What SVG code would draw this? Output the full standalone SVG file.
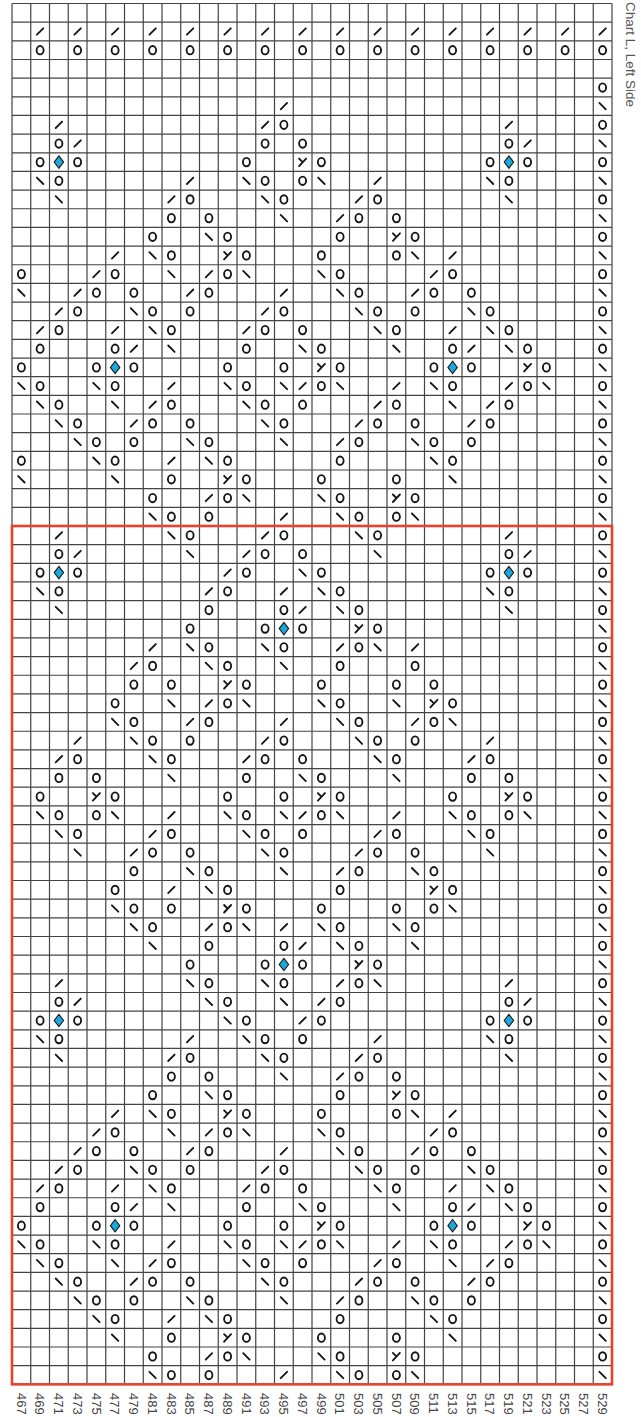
<svg xmlns="http://www.w3.org/2000/svg" width="641" height="1417" viewBox="0 0 641 1417">
<style>
.s{fill:none;stroke:#151515;stroke-width:1.85;stroke-linecap:round}
.grid{fill:none;stroke:#444;stroke-width:1.2}
.lbl{font-family:"Liberation Sans",Arial,sans-serif;font-size:13px;fill:#444}
</style>
<defs>
<ellipse id="o" cx="0" cy="0" rx="3.5" ry="4.2" class="s"/>
<path id="f" d="M-3.2,3.2L3.2,-3.2" class="s"/>
<path id="b" d="M-3.2,-3.2L3.2,3.2" class="s"/>
<path id="y" d="M-3.5,-3.5L0,0M3.5,-3.5L-3.5,4" class="s"/>
<path id="d" d="M0,-6.2L4.7,0L0,6.2L-4.7,0Z" fill="#1ba8de" stroke="#1a1a1a" stroke-width="1.1"/>
</defs>
<rect x="0" y="0" width="641" height="1417" fill="#fff"/>
<g id="grid">
<path class="grid" d="M12 3.5V1384.3M30.75 3.5V1384.3M49.5 3.5V1384.3M68.25 3.5V1384.3M87 3.5V1384.3M105.75 3.5V1384.3M124.5 3.5V1384.3M143.25 3.5V1384.3M162 3.5V1384.3M180.75 3.5V1384.3M199.5 3.5V1384.3M218.25 3.5V1384.3M237 3.5V1384.3M255.75 3.5V1384.3M274.5 3.5V1384.3M293.25 3.5V1384.3M312 3.5V1384.3M330.75 3.5V1384.3M349.5 3.5V1384.3M368.25 3.5V1384.3M387 3.5V1384.3M405.75 3.5V1384.3M424.5 3.5V1384.3M443.25 3.5V1384.3M462 3.5V1384.3M480.75 3.5V1384.3M499.5 3.5V1384.3M518.25 3.5V1384.3M537 3.5V1384.3M555.75 3.5V1384.3M574.5 3.5V1384.3M593.25 3.5V1384.3M612 3.5V1384.3"/>
<path class="grid" d="M12 3.5H612M12 22.16H612M12 40.82H612M12 59.48H612M12 78.14H612M12 96.8H612M12 115.46H612M12 134.12H612M12 152.78H612M12 171.44H612M12 190.1H612M12 208.76H612M12 227.42H612M12 246.08H612M12 264.74H612M12 283.4H612M12 302.06H612M12 320.72H612M12 339.38H612M12 358.04H612M12 376.7H612M12 395.36H612M12 414.02H612M12 432.68H612M12 451.34H612M12 470H612M12 488.66H612M12 507.32H612M12 525.98H612M12 544.64H612M12 563.3H612M12 581.96H612M12 600.62H612M12 619.28H612M12 637.94H612M12 656.6H612M12 675.26H612M12 693.92H612M12 712.58H612M12 731.24H612M12 749.9H612M12 768.56H612M12 787.22H612M12 805.88H612M12 824.54H612M12 843.2H612M12 861.86H612M12 880.52H612M12 899.18H612M12 917.84H612M12 936.5H612M12 955.16H612M12 973.82H612M12 992.48H612M12 1011.14H612M12 1029.8H612M12 1048.46H612M12 1067.12H612M12 1085.78H612M12 1104.44H612M12 1123.1H612M12 1141.76H612M12 1160.42H612M12 1179.08H612M12 1197.74H612M12 1216.4H612M12 1235.06H612M12 1253.72H612M12 1272.38H612M12 1291.04H612M12 1309.7H612M12 1328.36H612M12 1347.02H612M12 1365.68H612M12 1384.34H612"/>
</g>
<g id="symbols">
<g id="r1" transform="translate(0,31.5)"><use href="#f" x="40.1"/><use href="#f" x="77.6"/><use href="#f" x="115.1"/><use href="#f" x="152.6"/><use href="#f" x="190.1"/><use href="#f" x="227.6"/><use href="#f" x="265.1"/><use href="#f" x="302.6"/><use href="#f" x="340.1"/><use href="#f" x="377.6"/><use href="#f" x="415.1"/><use href="#f" x="452.6"/><use href="#f" x="490.1"/><use href="#f" x="527.6"/><use href="#f" x="565.1"/><use href="#f" x="602.6"/></g>
<g id="r2" transform="translate(0,50.2)"><use href="#o" x="40.1"/><use href="#o" x="77.6"/><use href="#o" x="115.1"/><use href="#o" x="152.6"/><use href="#o" x="190.1"/><use href="#o" x="227.6"/><use href="#o" x="265.1"/><use href="#o" x="302.6"/><use href="#o" x="340.1"/><use href="#o" x="377.6"/><use href="#o" x="415.1"/><use href="#o" x="452.6"/><use href="#o" x="490.1"/><use href="#o" x="527.6"/><use href="#o" x="565.1"/><use href="#o" x="602.6"/></g>
<g id="r4" transform="translate(0,87.5)"><use href="#o" x="602.6"/></g>
<g id="r5" transform="translate(0,106.1)"><use href="#f" x="283.9"/><use href="#b" x="602.6"/></g>
<g id="r6" transform="translate(0,124.8)"><use href="#f" x="58.9"/><use href="#f" x="265.1"/><use href="#o" x="283.9"/><use href="#f" x="508.9"/><use href="#o" x="602.6"/></g>
<g id="r7" transform="translate(0,143.5)"><use href="#o" x="58.9"/><use href="#f" x="77.6"/><use href="#o" x="265.1"/><use href="#o" x="302.6"/><use href="#o" x="508.9"/><use href="#f" x="527.6"/><use href="#b" x="602.6"/></g>
<g id="r8" transform="translate(0,162.1)"><use href="#o" x="40.1"/><use href="#d" x="58.9"/><use href="#o" x="77.6"/><use href="#o" x="246.4"/><use href="#y" x="302.6"/><use href="#o" x="321.4"/><use href="#o" x="490.1"/><use href="#d" x="508.9"/><use href="#o" x="527.6"/><use href="#o" x="602.6"/></g>
<g id="r9" transform="translate(0,180.8)"><use href="#b" x="40.1"/><use href="#o" x="58.9"/><use href="#f" x="190.1"/><use href="#b" x="246.4"/><use href="#o" x="265.1"/><use href="#o" x="302.6"/><use href="#b" x="321.4"/><use href="#f" x="377.6"/><use href="#b" x="490.1"/><use href="#o" x="508.9"/><use href="#b" x="602.6"/></g>
<g id="r10" transform="translate(0,199.4)"><use href="#b" x="58.9"/><use href="#f" x="171.4"/><use href="#o" x="190.1"/><use href="#b" x="265.1"/><use href="#o" x="283.9"/><use href="#f" x="358.9"/><use href="#o" x="377.6"/><use href="#b" x="508.9"/><use href="#o" x="602.6"/></g>
<g id="r11" transform="translate(0,218.1)"><use href="#o" x="171.4"/><use href="#o" x="208.9"/><use href="#b" x="283.9"/><use href="#f" x="340.1"/><use href="#o" x="358.9"/><use href="#o" x="396.4"/><use href="#b" x="602.6"/></g>
<g id="r12" transform="translate(0,236.8)"><use href="#o" x="152.6"/><use href="#b" x="208.9"/><use href="#o" x="227.6"/><use href="#o" x="340.1"/><use href="#y" x="396.4"/><use href="#o" x="415.1"/><use href="#o" x="602.6"/></g>
<g id="r13" transform="translate(0,255.4)"><use href="#f" x="115.1"/><use href="#b" x="152.6"/><use href="#o" x="171.4"/><use href="#y" x="227.6"/><use href="#o" x="246.4"/><use href="#o" x="321.4"/><use href="#o" x="396.4"/><use href="#b" x="415.1"/><use href="#f" x="452.6"/><use href="#b" x="602.6"/></g>
<g id="r14" transform="translate(0,274.1)"><use href="#o" x="21.4"/><use href="#f" x="96.4"/><use href="#o" x="115.1"/><use href="#b" x="171.4"/><use href="#f" x="208.9"/><use href="#o" x="227.6"/><use href="#b" x="246.4"/><use href="#b" x="321.4"/><use href="#o" x="340.1"/><use href="#f" x="433.9"/><use href="#o" x="452.6"/><use href="#o" x="602.6"/></g>
<g id="r15" transform="translate(0,292.7)"><use href="#b" x="21.4"/><use href="#f" x="77.6"/><use href="#o" x="96.4"/><use href="#o" x="133.9"/><use href="#f" x="190.1"/><use href="#o" x="208.9"/><use href="#f" x="283.9"/><use href="#b" x="340.1"/><use href="#o" x="358.9"/><use href="#f" x="415.1"/><use href="#o" x="433.9"/><use href="#o" x="471.4"/><use href="#b" x="602.6"/></g>
<g id="r16" transform="translate(0,311.4)"><use href="#f" x="58.9"/><use href="#o" x="77.6"/><use href="#b" x="133.9"/><use href="#o" x="152.6"/><use href="#o" x="190.1"/><use href="#f" x="265.1"/><use href="#o" x="283.9"/><use href="#b" x="358.9"/><use href="#o" x="377.6"/><use href="#o" x="415.1"/><use href="#b" x="471.4"/><use href="#o" x="490.1"/><use href="#o" x="602.6"/></g>
<g id="r17" transform="translate(0,330.1)"><use href="#f" x="40.1"/><use href="#o" x="58.9"/><use href="#f" x="115.1"/><use href="#b" x="152.6"/><use href="#o" x="171.4"/><use href="#f" x="246.4"/><use href="#o" x="265.1"/><use href="#o" x="302.6"/><use href="#b" x="377.6"/><use href="#o" x="396.4"/><use href="#f" x="452.6"/><use href="#b" x="490.1"/><use href="#o" x="508.9"/><use href="#b" x="602.6"/></g>
<g id="r18" transform="translate(0,348.7)"><use href="#o" x="40.1"/><use href="#o" x="115.1"/><use href="#f" x="133.9"/><use href="#b" x="171.4"/><use href="#o" x="246.4"/><use href="#b" x="302.6"/><use href="#o" x="321.4"/><use href="#b" x="396.4"/><use href="#o" x="452.6"/><use href="#f" x="471.4"/><use href="#b" x="508.9"/><use href="#o" x="527.6"/><use href="#o" x="602.6"/></g>
<g id="r19" transform="translate(0,367.4)"><use href="#o" x="21.4"/><use href="#o" x="96.4"/><use href="#d" x="115.1"/><use href="#o" x="133.9"/><use href="#o" x="227.6"/><use href="#o" x="283.9"/><use href="#y" x="321.4"/><use href="#o" x="340.1"/><use href="#o" x="433.9"/><use href="#d" x="452.6"/><use href="#o" x="471.4"/><use href="#y" x="527.6"/><use href="#o" x="546.4"/><use href="#b" x="602.6"/></g>
<g id="r20" transform="translate(0,386)"><use href="#b" x="21.4"/><use href="#o" x="40.1"/><use href="#b" x="96.4"/><use href="#o" x="115.1"/><use href="#f" x="171.4"/><use href="#b" x="227.6"/><use href="#o" x="246.4"/><use href="#b" x="283.9"/><use href="#f" x="302.6"/><use href="#o" x="321.4"/><use href="#b" x="340.1"/><use href="#f" x="396.4"/><use href="#b" x="433.9"/><use href="#o" x="452.6"/><use href="#f" x="508.9"/><use href="#o" x="527.6"/><use href="#b" x="546.4"/><use href="#o" x="602.6"/></g>
<g id="r21" transform="translate(0,404.7)"><use href="#b" x="40.1"/><use href="#o" x="58.9"/><use href="#b" x="115.1"/><use href="#f" x="152.6"/><use href="#o" x="171.4"/><use href="#b" x="246.4"/><use href="#o" x="265.1"/><use href="#o" x="302.6"/><use href="#f" x="377.6"/><use href="#o" x="396.4"/><use href="#b" x="452.6"/><use href="#f" x="490.1"/><use href="#o" x="508.9"/><use href="#b" x="602.6"/></g>
<g id="r22" transform="translate(0,423.4)"><use href="#b" x="58.9"/><use href="#o" x="77.6"/><use href="#f" x="133.9"/><use href="#o" x="152.6"/><use href="#o" x="190.1"/><use href="#b" x="265.1"/><use href="#o" x="283.9"/><use href="#f" x="358.9"/><use href="#o" x="377.6"/><use href="#o" x="415.1"/><use href="#f" x="471.4"/><use href="#o" x="490.1"/><use href="#o" x="602.6"/></g>
<g id="r23" transform="translate(0,442)"><use href="#b" x="77.6"/><use href="#o" x="96.4"/><use href="#o" x="133.9"/><use href="#b" x="190.1"/><use href="#o" x="208.9"/><use href="#b" x="283.9"/><use href="#f" x="340.1"/><use href="#o" x="358.9"/><use href="#b" x="415.1"/><use href="#o" x="433.9"/><use href="#o" x="471.4"/><use href="#b" x="602.6"/></g>
<g id="r24" transform="translate(0,460.7)"><use href="#o" x="21.4"/><use href="#b" x="96.4"/><use href="#o" x="115.1"/><use href="#f" x="171.4"/><use href="#b" x="208.9"/><use href="#o" x="227.6"/><use href="#o" x="340.1"/><use href="#b" x="433.9"/><use href="#o" x="452.6"/><use href="#o" x="602.6"/></g>
<g id="r25" transform="translate(0,479.3)"><use href="#b" x="21.4"/><use href="#b" x="115.1"/><use href="#o" x="171.4"/><use href="#y" x="227.6"/><use href="#o" x="246.4"/><use href="#o" x="321.4"/><use href="#o" x="396.4"/><use href="#b" x="452.6"/><use href="#b" x="602.6"/></g>
<g id="r26" transform="translate(0,498)"><use href="#o" x="152.6"/><use href="#f" x="208.9"/><use href="#o" x="227.6"/><use href="#b" x="246.4"/><use href="#b" x="321.4"/><use href="#o" x="340.1"/><use href="#y" x="396.4"/><use href="#o" x="415.1"/><use href="#o" x="602.6"/></g>
<g id="r27" transform="translate(0,516.7)"><use href="#b" x="152.6"/><use href="#o" x="171.4"/><use href="#o" x="208.9"/><use href="#f" x="283.9"/><use href="#b" x="340.1"/><use href="#o" x="358.9"/><use href="#o" x="396.4"/><use href="#b" x="415.1"/><use href="#b" x="602.6"/></g>
<g id="r28" transform="translate(0,535.3)"><use href="#f" x="58.9"/><use href="#b" x="171.4"/><use href="#o" x="190.1"/><use href="#f" x="265.1"/><use href="#o" x="283.9"/><use href="#b" x="358.9"/><use href="#o" x="377.6"/><use href="#f" x="508.9"/><use href="#o" x="602.6"/></g>
<g id="r29" transform="translate(0,554)"><use href="#o" x="58.9"/><use href="#f" x="77.6"/><use href="#b" x="190.1"/><use href="#f" x="246.4"/><use href="#o" x="265.1"/><use href="#o" x="302.6"/><use href="#b" x="377.6"/><use href="#o" x="508.9"/><use href="#f" x="527.6"/><use href="#b" x="602.6"/></g>
<g id="r30" transform="translate(0,572.6)"><use href="#o" x="40.1"/><use href="#d" x="58.9"/><use href="#o" x="77.6"/><use href="#f" x="227.6"/><use href="#o" x="246.4"/><use href="#b" x="302.6"/><use href="#o" x="321.4"/><use href="#o" x="490.1"/><use href="#d" x="508.9"/><use href="#o" x="527.6"/><use href="#o" x="602.6"/></g>
<g id="r31" transform="translate(0,591.3)"><use href="#b" x="40.1"/><use href="#o" x="58.9"/><use href="#f" x="208.9"/><use href="#o" x="227.6"/><use href="#f" x="283.9"/><use href="#b" x="321.4"/><use href="#o" x="340.1"/><use href="#b" x="490.1"/><use href="#o" x="508.9"/><use href="#b" x="602.6"/></g>
<g id="r32" transform="translate(0,610)"><use href="#b" x="58.9"/><use href="#o" x="208.9"/><use href="#o" x="283.9"/><use href="#f" x="302.6"/><use href="#b" x="340.1"/><use href="#o" x="358.9"/><use href="#b" x="508.9"/><use href="#o" x="602.6"/></g>
<g id="r33" transform="translate(0,628.6)"><use href="#o" x="190.1"/><use href="#o" x="265.1"/><use href="#d" x="283.9"/><use href="#o" x="302.6"/><use href="#y" x="358.9"/><use href="#o" x="377.6"/><use href="#b" x="602.6"/></g>
<g id="r34" transform="translate(0,647.3)"><use href="#f" x="152.6"/><use href="#b" x="190.1"/><use href="#o" x="208.9"/><use href="#b" x="265.1"/><use href="#o" x="283.9"/><use href="#f" x="340.1"/><use href="#o" x="358.9"/><use href="#b" x="377.6"/><use href="#f" x="415.1"/><use href="#o" x="602.6"/></g>
<g id="r35" transform="translate(0,665.9)"><use href="#f" x="133.9"/><use href="#o" x="152.6"/><use href="#b" x="208.9"/><use href="#o" x="227.6"/><use href="#b" x="283.9"/><use href="#o" x="340.1"/><use href="#o" x="415.1"/><use href="#b" x="602.6"/></g>
<g id="r36" transform="translate(0,684.6)"><use href="#o" x="133.9"/><use href="#o" x="171.4"/><use href="#y" x="227.6"/><use href="#o" x="246.4"/><use href="#o" x="321.4"/><use href="#o" x="396.4"/><use href="#o" x="433.9"/><use href="#o" x="602.6"/></g>
<g id="r37" transform="translate(0,703.3)"><use href="#o" x="115.1"/><use href="#b" x="171.4"/><use href="#f" x="208.9"/><use href="#o" x="227.6"/><use href="#b" x="246.4"/><use href="#b" x="321.4"/><use href="#o" x="340.1"/><use href="#b" x="396.4"/><use href="#y" x="433.9"/><use href="#o" x="452.6"/><use href="#b" x="602.6"/></g>
<g id="r38" transform="translate(0,721.9)"><use href="#b" x="115.1"/><use href="#o" x="133.9"/><use href="#f" x="190.1"/><use href="#o" x="208.9"/><use href="#f" x="283.9"/><use href="#b" x="340.1"/><use href="#o" x="358.9"/><use href="#f" x="415.1"/><use href="#o" x="433.9"/><use href="#b" x="452.6"/><use href="#o" x="602.6"/></g>
<g id="r39" transform="translate(0,740.6)"><use href="#f" x="77.6"/><use href="#b" x="133.9"/><use href="#o" x="152.6"/><use href="#o" x="190.1"/><use href="#f" x="265.1"/><use href="#o" x="283.9"/><use href="#b" x="358.9"/><use href="#o" x="377.6"/><use href="#o" x="415.1"/><use href="#f" x="490.1"/><use href="#b" x="602.6"/></g>
<g id="r40" transform="translate(0,759.2)"><use href="#f" x="58.9"/><use href="#o" x="77.6"/><use href="#b" x="152.6"/><use href="#o" x="171.4"/><use href="#f" x="246.4"/><use href="#o" x="265.1"/><use href="#o" x="302.6"/><use href="#b" x="377.6"/><use href="#o" x="396.4"/><use href="#f" x="471.4"/><use href="#o" x="490.1"/><use href="#o" x="602.6"/></g>
<g id="r41" transform="translate(0,777.9)"><use href="#o" x="58.9"/><use href="#o" x="96.4"/><use href="#b" x="171.4"/><use href="#o" x="246.4"/><use href="#b" x="302.6"/><use href="#o" x="321.4"/><use href="#b" x="396.4"/><use href="#o" x="471.4"/><use href="#o" x="508.9"/><use href="#b" x="602.6"/></g>
<g id="r42" transform="translate(0,796.6)"><use href="#o" x="40.1"/><use href="#y" x="96.4"/><use href="#o" x="115.1"/><use href="#o" x="227.6"/><use href="#o" x="283.9"/><use href="#y" x="321.4"/><use href="#o" x="340.1"/><use href="#o" x="452.6"/><use href="#y" x="508.9"/><use href="#o" x="527.6"/><use href="#o" x="602.6"/></g>
<g id="r43" transform="translate(0,815.2)"><use href="#b" x="40.1"/><use href="#o" x="58.9"/><use href="#o" x="96.4"/><use href="#b" x="115.1"/><use href="#f" x="171.4"/><use href="#b" x="227.6"/><use href="#o" x="246.4"/><use href="#b" x="283.9"/><use href="#f" x="302.6"/><use href="#o" x="321.4"/><use href="#b" x="340.1"/><use href="#f" x="396.4"/><use href="#b" x="452.6"/><use href="#o" x="471.4"/><use href="#o" x="508.9"/><use href="#b" x="527.6"/><use href="#b" x="602.6"/></g>
<g id="r44" transform="translate(0,833.9)"><use href="#b" x="58.9"/><use href="#o" x="77.6"/><use href="#f" x="152.6"/><use href="#o" x="171.4"/><use href="#b" x="246.4"/><use href="#o" x="265.1"/><use href="#o" x="302.6"/><use href="#f" x="377.6"/><use href="#o" x="396.4"/><use href="#b" x="471.4"/><use href="#o" x="490.1"/><use href="#o" x="602.6"/></g>
<g id="r45" transform="translate(0,852.5)"><use href="#b" x="77.6"/><use href="#f" x="133.9"/><use href="#o" x="152.6"/><use href="#o" x="190.1"/><use href="#b" x="265.1"/><use href="#o" x="283.9"/><use href="#f" x="358.9"/><use href="#o" x="377.6"/><use href="#o" x="415.1"/><use href="#b" x="490.1"/><use href="#b" x="602.6"/></g>
<g id="r46" transform="translate(0,871.2)"><use href="#o" x="133.9"/><use href="#b" x="190.1"/><use href="#o" x="208.9"/><use href="#b" x="283.9"/><use href="#f" x="340.1"/><use href="#o" x="358.9"/><use href="#b" x="415.1"/><use href="#o" x="433.9"/><use href="#o" x="602.6"/></g>
<g id="r47" transform="translate(0,889.9)"><use href="#o" x="115.1"/><use href="#f" x="171.4"/><use href="#b" x="208.9"/><use href="#o" x="227.6"/><use href="#o" x="340.1"/><use href="#y" x="433.9"/><use href="#o" x="452.6"/><use href="#b" x="602.6"/></g>
<g id="r48" transform="translate(0,908.5)"><use href="#b" x="115.1"/><use href="#o" x="133.9"/><use href="#o" x="171.4"/><use href="#y" x="227.6"/><use href="#o" x="246.4"/><use href="#o" x="321.4"/><use href="#o" x="396.4"/><use href="#o" x="433.9"/><use href="#b" x="452.6"/><use href="#o" x="602.6"/></g>
<g id="r49" transform="translate(0,927.2)"><use href="#b" x="133.9"/><use href="#o" x="152.6"/><use href="#f" x="208.9"/><use href="#o" x="227.6"/><use href="#b" x="246.4"/><use href="#f" x="283.9"/><use href="#b" x="321.4"/><use href="#o" x="340.1"/><use href="#b" x="396.4"/><use href="#o" x="415.1"/><use href="#b" x="602.6"/></g>
<g id="r50" transform="translate(0,945.8)"><use href="#b" x="152.6"/><use href="#o" x="208.9"/><use href="#o" x="283.9"/><use href="#f" x="302.6"/><use href="#b" x="340.1"/><use href="#o" x="358.9"/><use href="#b" x="415.1"/><use href="#o" x="602.6"/></g>
<g id="r51" transform="translate(0,964.5)"><use href="#o" x="190.1"/><use href="#o" x="265.1"/><use href="#d" x="283.9"/><use href="#o" x="302.6"/><use href="#y" x="358.9"/><use href="#o" x="377.6"/><use href="#b" x="602.6"/></g>
<g id="r52" transform="translate(0,983.2)"><use href="#f" x="58.9"/><use href="#b" x="190.1"/><use href="#o" x="208.9"/><use href="#b" x="265.1"/><use href="#o" x="283.9"/><use href="#f" x="340.1"/><use href="#o" x="358.9"/><use href="#b" x="377.6"/><use href="#f" x="508.9"/><use href="#o" x="602.6"/></g>
<g id="r53" transform="translate(0,1001.8)"><use href="#o" x="58.9"/><use href="#f" x="77.6"/><use href="#b" x="208.9"/><use href="#o" x="227.6"/><use href="#b" x="283.9"/><use href="#f" x="321.4"/><use href="#o" x="340.1"/><use href="#o" x="508.9"/><use href="#f" x="527.6"/><use href="#b" x="602.6"/></g>
<g id="r54" transform="translate(0,1020.5)"><use href="#o" x="40.1"/><use href="#d" x="58.9"/><use href="#o" x="77.6"/><use href="#b" x="227.6"/><use href="#o" x="246.4"/><use href="#f" x="302.6"/><use href="#o" x="321.4"/><use href="#o" x="490.1"/><use href="#d" x="508.9"/><use href="#o" x="527.6"/><use href="#o" x="602.6"/></g>
<g id="r55" transform="translate(0,1039.1)"><use href="#b" x="40.1"/><use href="#o" x="58.9"/><use href="#f" x="190.1"/><use href="#b" x="246.4"/><use href="#o" x="265.1"/><use href="#o" x="302.6"/><use href="#f" x="377.6"/><use href="#b" x="490.1"/><use href="#o" x="508.9"/><use href="#b" x="602.6"/></g>
<g id="r56" transform="translate(0,1057.8)"><use href="#b" x="58.9"/><use href="#f" x="171.4"/><use href="#o" x="190.1"/><use href="#b" x="265.1"/><use href="#o" x="283.9"/><use href="#f" x="358.9"/><use href="#o" x="377.6"/><use href="#b" x="508.9"/><use href="#o" x="602.6"/></g>
<g id="r57" transform="translate(0,1076.5)"><use href="#o" x="171.4"/><use href="#o" x="208.9"/><use href="#b" x="283.9"/><use href="#f" x="340.1"/><use href="#o" x="358.9"/><use href="#o" x="396.4"/><use href="#b" x="602.6"/></g>
<g id="r58" transform="translate(0,1095.1)"><use href="#o" x="152.6"/><use href="#b" x="208.9"/><use href="#o" x="227.6"/><use href="#o" x="340.1"/><use href="#y" x="396.4"/><use href="#o" x="415.1"/><use href="#o" x="602.6"/></g>
<g id="r59" transform="translate(0,1113.8)"><use href="#f" x="115.1"/><use href="#b" x="152.6"/><use href="#o" x="171.4"/><use href="#y" x="227.6"/><use href="#o" x="246.4"/><use href="#o" x="321.4"/><use href="#o" x="396.4"/><use href="#b" x="415.1"/><use href="#f" x="452.6"/><use href="#b" x="602.6"/></g>
<g id="r60" transform="translate(0,1132.4)"><use href="#f" x="96.4"/><use href="#o" x="115.1"/><use href="#b" x="171.4"/><use href="#f" x="208.9"/><use href="#o" x="227.6"/><use href="#b" x="246.4"/><use href="#b" x="321.4"/><use href="#o" x="340.1"/><use href="#f" x="433.9"/><use href="#o" x="452.6"/><use href="#o" x="602.6"/></g>
<g id="r61" transform="translate(0,1151.1)"><use href="#f" x="77.6"/><use href="#o" x="96.4"/><use href="#o" x="133.9"/><use href="#f" x="190.1"/><use href="#o" x="208.9"/><use href="#f" x="283.9"/><use href="#b" x="340.1"/><use href="#o" x="358.9"/><use href="#f" x="415.1"/><use href="#o" x="433.9"/><use href="#o" x="471.4"/><use href="#b" x="602.6"/></g>
<g id="r62" transform="translate(0,1169.8)"><use href="#f" x="58.9"/><use href="#o" x="77.6"/><use href="#b" x="133.9"/><use href="#o" x="152.6"/><use href="#o" x="190.1"/><use href="#f" x="265.1"/><use href="#o" x="283.9"/><use href="#b" x="358.9"/><use href="#o" x="377.6"/><use href="#o" x="415.1"/><use href="#b" x="471.4"/><use href="#o" x="490.1"/><use href="#o" x="602.6"/></g>
<g id="r63" transform="translate(0,1188.4)"><use href="#f" x="40.1"/><use href="#o" x="58.9"/><use href="#f" x="115.1"/><use href="#b" x="152.6"/><use href="#o" x="171.4"/><use href="#f" x="246.4"/><use href="#o" x="265.1"/><use href="#o" x="302.6"/><use href="#b" x="377.6"/><use href="#o" x="396.4"/><use href="#f" x="452.6"/><use href="#b" x="490.1"/><use href="#o" x="508.9"/><use href="#b" x="602.6"/></g>
<g id="r64" transform="translate(0,1207.1)"><use href="#o" x="40.1"/><use href="#o" x="115.1"/><use href="#f" x="133.9"/><use href="#b" x="171.4"/><use href="#o" x="246.4"/><use href="#b" x="302.6"/><use href="#o" x="321.4"/><use href="#b" x="396.4"/><use href="#o" x="452.6"/><use href="#f" x="471.4"/><use href="#b" x="508.9"/><use href="#o" x="527.6"/><use href="#o" x="602.6"/></g>
<g id="r65" transform="translate(0,1225.7)"><use href="#o" x="21.4"/><use href="#o" x="96.4"/><use href="#d" x="115.1"/><use href="#o" x="133.9"/><use href="#o" x="227.6"/><use href="#o" x="283.9"/><use href="#y" x="321.4"/><use href="#o" x="340.1"/><use href="#o" x="433.9"/><use href="#d" x="452.6"/><use href="#o" x="471.4"/><use href="#y" x="527.6"/><use href="#o" x="546.4"/><use href="#b" x="602.6"/></g>
<g id="r66" transform="translate(0,1244.4)"><use href="#b" x="21.4"/><use href="#o" x="40.1"/><use href="#b" x="96.4"/><use href="#o" x="115.1"/><use href="#f" x="171.4"/><use href="#b" x="227.6"/><use href="#o" x="246.4"/><use href="#b" x="283.9"/><use href="#f" x="302.6"/><use href="#o" x="321.4"/><use href="#b" x="340.1"/><use href="#f" x="396.4"/><use href="#b" x="433.9"/><use href="#o" x="452.6"/><use href="#f" x="508.9"/><use href="#o" x="527.6"/><use href="#b" x="546.4"/><use href="#o" x="602.6"/></g>
<g id="r67" transform="translate(0,1263.1)"><use href="#b" x="40.1"/><use href="#o" x="58.9"/><use href="#b" x="115.1"/><use href="#f" x="152.6"/><use href="#o" x="171.4"/><use href="#b" x="246.4"/><use href="#o" x="265.1"/><use href="#o" x="302.6"/><use href="#f" x="377.6"/><use href="#o" x="396.4"/><use href="#b" x="452.6"/><use href="#f" x="490.1"/><use href="#o" x="508.9"/><use href="#b" x="602.6"/></g>
<g id="r68" transform="translate(0,1281.7)"><use href="#b" x="58.9"/><use href="#o" x="77.6"/><use href="#f" x="133.9"/><use href="#o" x="152.6"/><use href="#o" x="190.1"/><use href="#b" x="265.1"/><use href="#o" x="283.9"/><use href="#f" x="358.9"/><use href="#o" x="377.6"/><use href="#o" x="415.1"/><use href="#f" x="471.4"/><use href="#o" x="490.1"/><use href="#o" x="602.6"/></g>
<g id="r69" transform="translate(0,1300.4)"><use href="#b" x="77.6"/><use href="#o" x="96.4"/><use href="#o" x="133.9"/><use href="#b" x="190.1"/><use href="#o" x="208.9"/><use href="#b" x="283.9"/><use href="#f" x="340.1"/><use href="#o" x="358.9"/><use href="#b" x="415.1"/><use href="#o" x="433.9"/><use href="#o" x="471.4"/><use href="#b" x="602.6"/></g>
<g id="r70" transform="translate(0,1319)"><use href="#b" x="96.4"/><use href="#o" x="115.1"/><use href="#f" x="171.4"/><use href="#b" x="208.9"/><use href="#o" x="227.6"/><use href="#o" x="340.1"/><use href="#b" x="433.9"/><use href="#o" x="452.6"/><use href="#o" x="602.6"/></g>
<g id="r71" transform="translate(0,1337.7)"><use href="#b" x="115.1"/><use href="#o" x="171.4"/><use href="#y" x="227.6"/><use href="#o" x="246.4"/><use href="#o" x="321.4"/><use href="#o" x="396.4"/><use href="#b" x="452.6"/><use href="#b" x="602.6"/></g>
<g id="r72" transform="translate(0,1356.4)"><use href="#o" x="152.6"/><use href="#f" x="208.9"/><use href="#o" x="227.6"/><use href="#b" x="246.4"/><use href="#b" x="321.4"/><use href="#o" x="340.1"/><use href="#y" x="396.4"/><use href="#o" x="415.1"/><use href="#o" x="602.6"/></g>
<g id="r73" transform="translate(0,1375)"><use href="#b" x="152.6"/><use href="#o" x="171.4"/><use href="#o" x="208.9"/><use href="#f" x="283.9"/><use href="#b" x="340.1"/><use href="#o" x="358.9"/><use href="#o" x="396.4"/><use href="#b" x="415.1"/><use href="#b" x="602.6"/></g>
</g>
<rect id="repeat-box" x="12" y="525.98" width="600" height="858.36" fill="none" stroke="#e8412c" stroke-width="2.6"/>
<g id="labels" class="lbl">
<text transform="translate(16.7,1393) rotate(90)">467</text>
<text transform="translate(35.4,1393) rotate(90)">469</text>
<text transform="translate(54.2,1393) rotate(90)">471</text>
<text transform="translate(72.9,1393) rotate(90)">473</text>
<text transform="translate(91.7,1393) rotate(90)">475</text>
<text transform="translate(110.4,1393) rotate(90)">477</text>
<text transform="translate(129.2,1393) rotate(90)">479</text>
<text transform="translate(147.9,1393) rotate(90)">481</text>
<text transform="translate(166.7,1393) rotate(90)">483</text>
<text transform="translate(185.4,1393) rotate(90)">485</text>
<text transform="translate(204.2,1393) rotate(90)">487</text>
<text transform="translate(222.9,1393) rotate(90)">489</text>
<text transform="translate(241.7,1393) rotate(90)">491</text>
<text transform="translate(260.4,1393) rotate(90)">493</text>
<text transform="translate(279.2,1393) rotate(90)">495</text>
<text transform="translate(297.9,1393) rotate(90)">497</text>
<text transform="translate(316.7,1393) rotate(90)">499</text>
<text transform="translate(335.4,1393) rotate(90)">501</text>
<text transform="translate(354.2,1393) rotate(90)">503</text>
<text transform="translate(372.9,1393) rotate(90)">505</text>
<text transform="translate(391.7,1393) rotate(90)">507</text>
<text transform="translate(410.4,1393) rotate(90)">509</text>
<text transform="translate(429.2,1393) rotate(90)">511</text>
<text transform="translate(447.9,1393) rotate(90)">513</text>
<text transform="translate(466.7,1393) rotate(90)">515</text>
<text transform="translate(485.4,1393) rotate(90)">517</text>
<text transform="translate(504.2,1393) rotate(90)">519</text>
<text transform="translate(522.9,1393) rotate(90)">521</text>
<text transform="translate(541.7,1393) rotate(90)">523</text>
<text transform="translate(560.4,1393) rotate(90)">525</text>
<text transform="translate(579.2,1393) rotate(90)">527</text>
<text transform="translate(597.9,1393) rotate(90)">529</text>
<text transform="translate(625.5,2) rotate(90)" style="font-size:13.5px;fill:#555">Chart L, Left Side</text>
</g>
</svg>
